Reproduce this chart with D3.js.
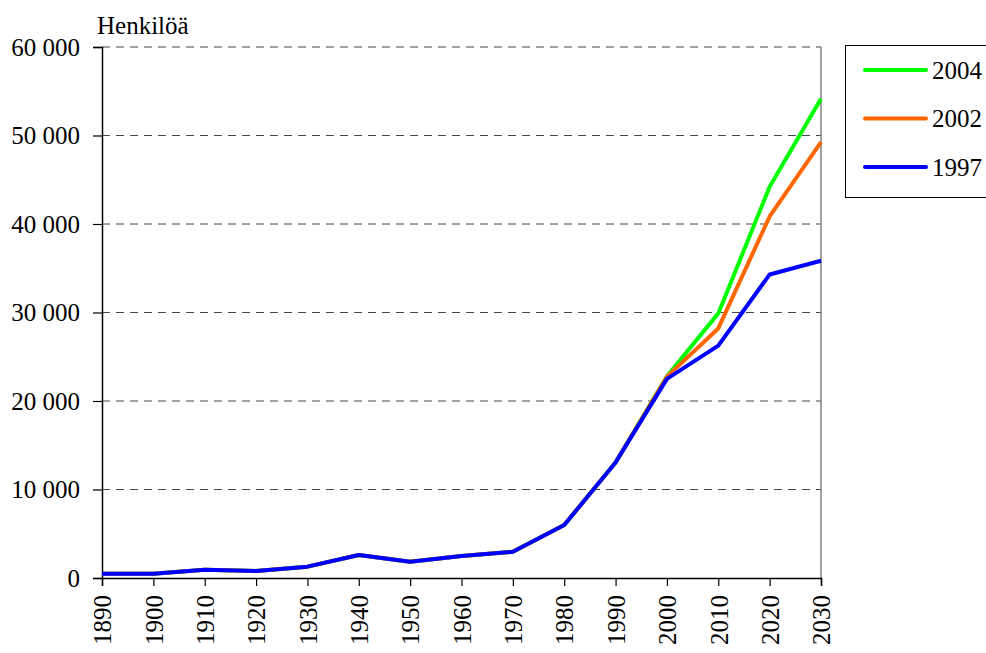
<!DOCTYPE html>
<html>
<head>
<meta charset="utf-8">
<script src="https://cdn.jsdelivr.net/npm/d3@7"></script>
<style>
  body { margin: 0; background: #fff; }
  svg text { font-family: "Liberation Serif", serif !important; }
</style>
</head>
<body>
<script>
// population (Henkilöä), three forecasts
var years = [1890, 1900, 1910, 1920, 1930, 1940, 1950, 1960, 1970, 1980, 1990, 2000, 2010, 2020, 2030];
var v2004 = [480, 480, 930, 800, 1280, 2600, 1830, 2480, 2970, 5980, 13060, 22800, 29900, 44200, 54150];
var v2002 = [480, 480, 930, 800, 1280, 2600, 1830, 2480, 2970, 5980, 13060, 22750, 28200, 40850, 49250];
var v1997 = [480, 480, 930, 800, 1280, 2600, 1830, 2480, 2970, 5980, 13060, 22500, 26250, 34300, 35850];
var seriesNames = ["2004", "2002", "1997"];
var yTicks = [0, 10000, 20000, 30000, 40000, 50000, 60000];

var width = 986,
    height = 653,
    plotLeft = 102, plotRight = 821, plotTop = 47, plotBottom = 578;

var colors = {"2004": "#00ff00", "2002": "#ff6600", "1997": "#0000ff"};
var series = [
  {name: "2004", values: v2004},
  {name: "2002", values: v2002},
  {name: "1997", values: v1997}
];

var svg = d3.select("body").append("svg")
    .attr("width", width)
    .attr("height", height)
    .attr("font-family", "Liberation Serif");

var x = d3.scaleLinear().domain([1890, 2030]).range([plotLeft, plotRight]);
var y = d3.scaleLinear().domain([0, 60000]).range([plotBottom, plotTop]);

var fmt = function(d) { return d === 0 ? "0" : d3.format(",")(d).replace(",", " "); };

// grid lines
svg.append("g")
  .selectAll("line")
  .data(yTicks.filter(function(d) { return d > 0; }))
  .enter().append("line")
    .attr("x1", plotLeft).attr("x2", plotRight)
    .attr("y1", function(d) { return y(d); })
    .attr("y2", function(d) { return y(d); })
    .attr("stroke", "#444")
    .attr("stroke-width", 1)
    .attr("stroke-dasharray", "8,6");

// right border
svg.append("line")
    .attr("x1", plotRight).attr("x2", plotRight)
    .attr("y1", plotTop).attr("y2", plotBottom)
    .attr("stroke", "#808080")
    .attr("stroke-width", 1.5);

// y axis
var yAxis = svg.append("g")
    .attr("transform", "translate(" + plotLeft + ",0)")
    .call(d3.axisLeft(y).tickValues(yTicks).tickSize(9).tickPadding(13).tickFormat(fmt))
    .attr("font-family", null)
    .attr("font-size", null);

// x axis
var xAxis = svg.append("g")
    .attr("transform", "translate(0," + plotBottom + ")")
    .call(d3.axisBottom(x).tickValues(years).tickSize(8).tickFormat(d3.format("d")))
    .attr("font-family", null)
    .attr("font-size", null);
xAxis.selectAll("text")
    .attr("transform", "rotate(-90)")
    .attr("text-anchor", "end")
    .attr("dy", "0.35em")
    .attr("x", -17)
    .attr("y", 0);

svg.selectAll(".domain").attr("stroke", "#000").attr("stroke-width", 1.5);
svg.selectAll(".tick line").attr("stroke", "#000").attr("stroke-width", 1.2);

// axis title
svg.append("text")
    .attr("x", 97).attr("y", 34)
    .text("Henkilöä");

// lines
var line = d3.line()
    .x(function(d, i) { return x(years[i]); })
    .y(function(d) { return y(d); });

svg.append("g")
  .selectAll("path")
  .data(series)
  .enter().append("path")
    .attr("d", function(d) { return line(d.values); })
    .attr("fill", "none")
    .attr("stroke", function(d) { return colors[d.name]; })
    .attr("stroke-width", 4)
    .attr("stroke-linejoin", "round");

// legend
var legend = svg.append("g");
legend.append("rect")
    .attr("x", 845.5).attr("y", 45.5)
    .attr("width", 150).attr("height", 152)
    .attr("fill", "#fff")
    .attr("stroke", "#000")
    .attr("stroke-width", 1);

var item = legend.selectAll("g.item")
  .data(seriesNames)
  .enter().append("g")
    .attr("class", "item")
    .attr("transform", function(d, i) { return "translate(0," + (70 + i * 48.5) + ")"; });

item.append("line")
    .attr("x1", 865).attr("x2", 926)
    .attr("stroke", function(d) { return colors[d]; })
    .attr("stroke-width", 4)
    .attr("stroke-linecap", "round");

item.append("text")
    .attr("x", 932).attr("y", 0)
    .attr("dy", "0.35em")
    .text(function(d) { return d; });

// all text: serif, 25px
svg.selectAll("text")
    .attr("font-family", "Liberation Serif")
    .attr("font-size", 25)
    .attr("fill", "#000")
    .style("font-family", "Liberation Serif")
    .style("font-size", "25px");
</script>
</body>
</html>
